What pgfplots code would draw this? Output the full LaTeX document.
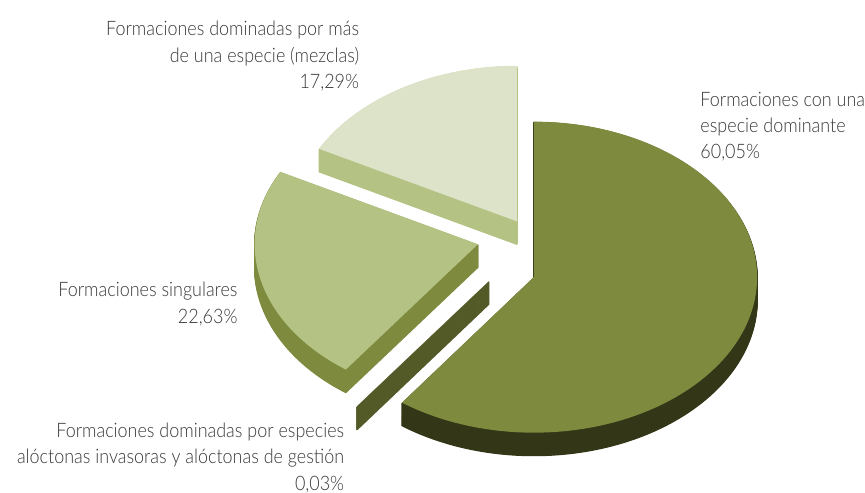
\documentclass[border=0pt]{standalone}
\usepackage{pgfplots}
\pgfplotsset{compat=1.18}
\usepackage{pgfplotstable}
\usepackage{fontspec}
\IfFontExistsTF{Lato Light}{\setmainfont{Lato Light}[FakeStretch=0.9]}{\setmainfont{Lato}[FakeStretch=0.9]}

\definecolor{bigTop}{HTML}{7E8A3E}
\definecolor{bigSide}{HTML}{333617}
\definecolor{tinyCol}{HTML}{545A27}
\definecolor{singTop}{HTML}{B4C283}
\definecolor{singSide}{HTML}{7E8A3E}
\definecolor{mezTop}{HTML}{DDE3C8}
\definecolor{mezSide}{HTML}{B4C283}
\definecolor{txt}{HTML}{383838}

% value = percentage, dx/dy = explode offset of the slice
\pgfplotstableread{
value dx dy
60.05 0 0
0.03 -45 -4
22.63 -56 33
17.29 -17 56
}\piedata

\def\cx{533}\def\cy{213}\def\rx{224}\def\ry{156}
\newcommand\lbl{\fontsize{20bp}{26.5bp}\selectfont}

\newcommand\drawslice[8]{%
  \pgfplotsinvokeforeach{23,22,...,1}{%
    \filldraw[#8, line width=1.3bp, line join=round] (axis cs:#1,{#2-##1}) -- (axis cs:#3,{#4-##1}) arc[start angle=#5,end angle=#6,x radius=\rx bp,y radius=\ry bp] -- cycle;
  }%
  \fill[#7] (axis cs:#1,#2) -- (axis cs:#3,#4) arc[start angle=#5,end angle=#6,x radius=\rx bp,y radius=\ry bp] -- cycle;
}

\begin{document}
\def\cum{0}
\pgfplotsforeachungrouped \i in {0,1,2,3}{%
  \pgfplotstablegetelem{\i}{value}\of\piedata \let\va\pgfplotsretval
  \pgfplotstablegetelem{\i}{dx}\of\piedata \let\dxv\pgfplotsretval
  \pgfplotstablegetelem{\i}{dy}\of\piedata \let\dyv\pgfplotsretval
  \pgfmathsetmacro\mstart{90-3.6*\cum}%
  \pgfmathsetmacro\cumnew{\cum+\va}%
  \pgfmathsetmacro\mend{90-3.6*\cumnew}%
  \pgfmathsetmacro\X{\cx+\dxv}%
  \pgfmathsetmacro\Y{\cy+\dyv}%
  \pgfmathsetmacro\sx{\X+\rx*cos(\mstart)}%
  \pgfmathsetmacro\sy{\Y+\ry*sin(\mstart)}%
  \expandafter\xdef\csname pie\i\endcsname{{\X}{\Y}{\sx}{\sy}{\mstart}{\mend}}%
  \global\let\cum\cumnew
}%
\begin{tikzpicture}
\begin{axis}[hide axis, scale only axis, width=865bp, height=491bp,
  xmin=0, xmax=865, ymin=0, ymax=491, clip=false]
\path (axis cs:0,0) rectangle (axis cs:865,491);
\edef\tmp{\noexpand\drawslice\csname pie3\endcsname{mezTop}{mezSide}}\tmp
\edef\tmp{\noexpand\drawslice\csname pie2\endcsname{singTop}{singSide}}\tmp
\edef\tmp{\noexpand\drawslice\csname pie1\endcsname{tinyCol}{tinyCol}}\tmp
\edef\tmp{\noexpand\drawslice\csname pie0\endcsname{bigTop}{bigSide}}\tmp

\node[anchor=north east, align=right, inner sep=0, font=\lbl, text=txt] at (axis cs:358,470)
  {Formaciones dominadas por más\\de una especie (mezclas)\\17,29\%};
\node[anchor=north west, align=left, inner sep=0, font=\lbl, text=txt] at (axis cs:700,399)
  {Formaciones con una\\especie dominante\\60,05\%};
\node[anchor=north east, align=right, inner sep=0, font=\lbl, text=txt] at (axis cs:236,208)
  {Formaciones singulares\\22,63\%};
\node[anchor=north east, align=right, inner sep=0, font=\lbl, text=txt] at (axis cs:343,67)
  {Formaciones dominadas por especies\\alóctonas invasoras y alóctonas de gestión\\0,03\%};
\end{axis}
\end{tikzpicture}
\end{document}
